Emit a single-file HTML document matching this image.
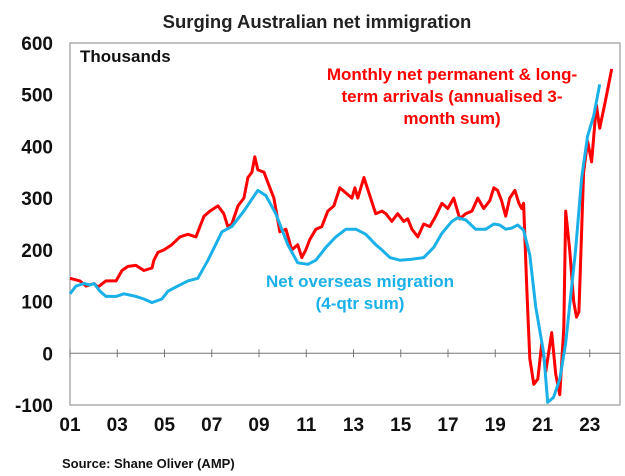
<!DOCTYPE html>
<html><head><meta charset="utf-8"><style>
html,body{margin:0;padding:0;background:#fff;}
svg{display:block;font-family:"Liberation Sans",Arial,sans-serif;}
</style></head><body>
<svg id="chart" width="625" height="476" viewBox="0 0 625 476">
<text x="317" y="28" text-anchor="middle" font-size="18.5" font-weight="bold" fill="#222">Surging Australian net immigration</text>
<rect x="70" y="43" width="550" height="362" fill="none" stroke="#999" stroke-width="1.2"/>
<text x="80" y="62" font-size="17" font-weight="bold" fill="#111">Thousands</text>
<g id="yaxis"></g>
<g id="xaxis"></g>
<g id="series"></g>
<g font-weight="bold" font-size="17" text-anchor="middle">
<text fill="#ff0000"><tspan x="452" y="80">Monthly net permanent &amp; long-</tspan><tspan x="452" y="102">term arrivals (annualised 3-</tspan><tspan x="452" y="124">month sum)</tspan></text>
<text fill="#1ab0e8"><tspan x="360" y="287">Net overseas migration</tspan><tspan x="360" y="309">(4-qtr sum)</tspan></text>
</g>
<text x="62" y="468" font-size="13" font-weight="bold" fill="#111">Source: Shane Oliver (AMP)</text>
</svg>
<script>
const yTicks=[-100,0,100,200,300,400,500,600];
const xTickYears=[2001,2003,2005,2007,2009,2011,2013,2015,2017,2019,2021,2023];
const xTickLabels=["01","03","05","07","09","11","13","15","17","19","21","23"];
const redYears=[0,.42,.68,1.02,1.18,1.52,1.95,2.20,2.45,2.79,3.13,3.47,3.55,3.72,3.98,4.31,4.65,4.99,5.33,5.67,5.92,6.26,6.51,6.68,6.85,7.11,7.36,7.53,7.70,7.82,7.95,8.21,8.46,8.63,8.88,9.14,9.39,9.64,9.81,9.98,10.15,10.41,10.66,10.91,11.17,11.42,11.68,11.93,12.06,12.18,12.44,12.69,12.94,13.20,13.37,13.62,13.87,14.13,14.30,14.47,14.72,14.97,15.23,15.48,15.74,15.99,16.24,16.50,16.75,17.01,17.26,17.51,17.77,17.94,18.10,18.27,18.44,18.61,18.83,19.00,19.12,19.20,19.34,19.46,19.63,19.80,19.97,20.14,20.39,20.56,20.73,20.90,20.98,21.15,21.32,21.44,21.54,21.74,21.91,22.08,22.28,22.42,22.67,22.93];
const redValues=[145,140,130,135,128,140,140,160,168,170,160,165,180,195,200,210,225,230,225,265,275,285,270,245,250,285,300,340,350,380,355,350,320,300,235,240,200,210,185,200,220,240,245,275,285,320,310,300,320,300,340,305,270,275,270,255,270,255,260,240,225,250,245,265,290,280,300,260,270,275,300,280,295,320,315,295,265,300,315,290,280,290,120,-10,-60,-50,20,-35,40,-40,-80,50,275,200,100,70,80,350,410,370,480,435,490,550];
const blueYears=[0,.25,.59,.85,1.02,1.27,1.52,1.95,2.28,2.79,3.13,3.47,3.89,4.15,4.48,4.99,5.41,5.84,6.43,6.85,7.36,7.95,8.29,8.71,9.22,9.64,10.07,10.41,10.83,11.25,11.68,12.10,12.52,12.94,13.20,13.54,13.96,14.47,14.97,15.40,15.74,16.16,16.41,16.75,17.17,17.60,17.94,18.19,18.44,18.70,18.95,19.20,19.46,19.71,20.05,20.22,20.47,20.73,20.98,21.40,21.66,21.91,22.17,22.42];
const blueValues=[115,130,135,132,135,120,110,110,115,110,105,98,105,120,128,140,145,180,235,245,275,315,305,270,210,175,172,180,205,225,240,240,230,210,200,185,180,182,185,205,232,255,262,258,240,240,250,248,240,242,248,238,190,90,0,-95,-85,-50,20,200,340,420,460,520];

const NS='http://www.w3.org/2000/svg';
const X0=70,X1=620,Y0=405,Y1=43,XMIN=2001,XMAX=2024.28,VMIN=-100,VMAX=600;
function xs(yr){return X0+(yr-XMIN)/(XMAX-XMIN)*(X1-X0);}
function ys(v){return Y0-(v-VMIN)/(VMAX-VMIN)*(Y0-Y1);}
function mk(tag,attrs,parent){const e=document.createElementNS(NS,tag);for(const k in attrs)e.setAttribute(k,attrs[k]);parent.appendChild(e);return e;}
const ya=document.getElementById('yaxis'),xa=document.getElementById('xaxis'),sg=document.getElementById('series');
yTicks.forEach(v=>{
  const t=mk('text',{x:53,y:ys(v)+7,'text-anchor':'end','font-size':'19','font-weight':'bold',fill:'#111'},ya);
  
  
  t.textContent=v;
});
const zl=mk('line',{x1:X0,x2:X1,y1:ys(0),y2:ys(0),stroke:'#777','stroke-width':1},xa);


xTickYears.forEach((yr,i)=>{
  const tk=mk('line',{x1:xs(yr),x2:xs(yr),y1:ys(0)-4,y2:ys(0)+4,stroke:'#777','stroke-width':1},xa);
  
  
  const t=mk('text',{x:xs(yr),y:431,'text-anchor':'middle','font-size':'19','font-weight':'bold',fill:'#111'},xa);
  
  
  t.textContent=xTickLabels[i];
});
function path(years,vals){return years.map((y,i)=>(i?'L':'M')+xs(XMIN+y).toFixed(1)+','+ys(vals[i]).toFixed(1)).join('');}
const red=mk('path',{d:path(redYears,redValues),fill:'none',stroke:'#ff0000','stroke-width':3,'stroke-linejoin':'round'},sg);


const blue=mk('path',{d:path(blueYears,blueValues),fill:'none',stroke:'#1ab0e8','stroke-width':3,'stroke-linejoin':'round'},sg);


</script>
</body></html>
